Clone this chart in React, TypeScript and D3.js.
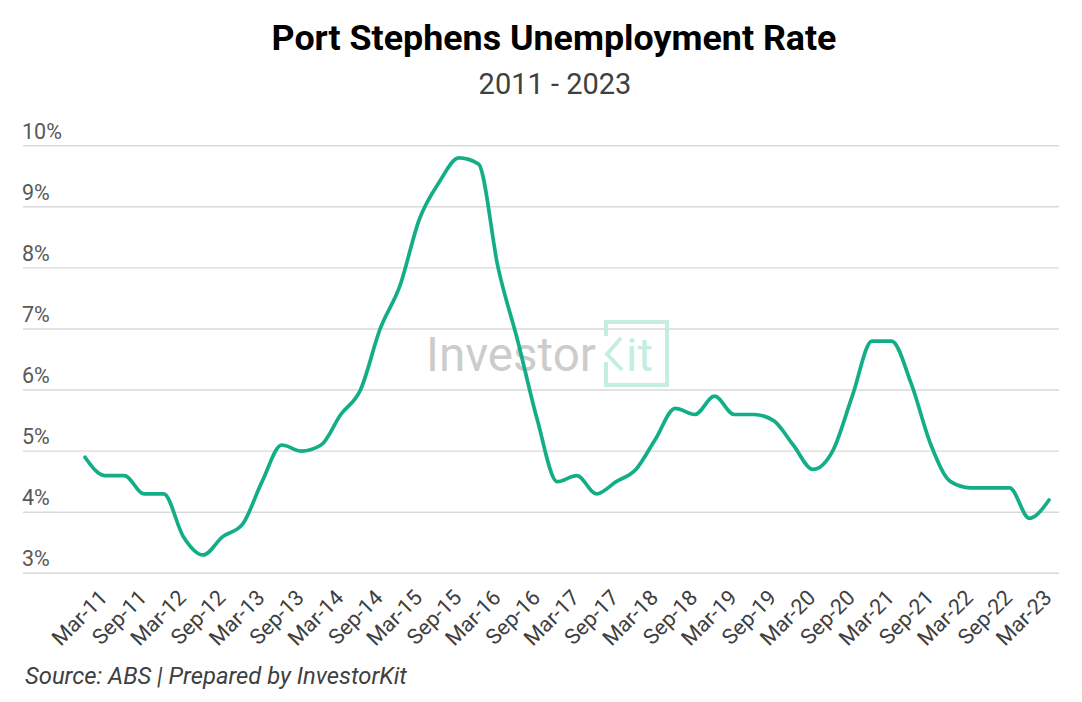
import React from 'react';
import * as d3 from 'd3';

const categories = [
  'Dec-10', 'Mar-11', 'Jun-11', 'Sep-11', 'Dec-11', 'Mar-12', 'Jun-12', 'Sep-12', 'Dec-12',
  'Mar-13', 'Jun-13', 'Sep-13', 'Dec-13', 'Mar-14', 'Jun-14', 'Sep-14', 'Dec-14',
  'Mar-15', 'Jun-15', 'Sep-15', 'Dec-15', 'Mar-16', 'Jun-16', 'Sep-16', 'Dec-16',
  'Mar-17', 'Jun-17', 'Sep-17', 'Dec-17', 'Mar-18', 'Jun-18', 'Sep-18', 'Dec-18',
  'Mar-19', 'Jun-19', 'Sep-19', 'Dec-19', 'Mar-20', 'Jun-20', 'Sep-20', 'Dec-20',
  'Mar-21', 'Jun-21', 'Sep-21', 'Dec-21', 'Mar-22', 'Jun-22', 'Sep-22', 'Dec-22', 'Mar-23',
];

const rates = [
  4.9, 4.6, 4.6, 4.3, 4.3, 3.6, 3.3, 3.6, 3.8,
  4.5, 5.1, 5.0, 5.1, 5.6, 6.0, 7.0, 7.7,
  8.8, 9.4, 9.8, 9.7, 8.0, 6.8, 5.5, 4.5,
  4.6, 4.3, 4.5, 4.7, 5.2, 5.7, 5.6, 5.9,
  5.6, 5.6, 5.5, 5.1, 4.7, 5.0, 5.9, 6.8,
  6.8, 6.1, 5.1, 4.5, 4.4, 4.4, 4.4, 3.9, 4.2,
];

const yTicks = [3, 4, 5, 6, 7, 8, 9, 10];
const xTickLabels = [
  'Mar-11', 'Sep-11', 'Mar-12', 'Sep-12', 'Mar-13', 'Sep-13', 'Mar-14', 'Sep-14',
  'Mar-15', 'Sep-15', 'Mar-16', 'Sep-16', 'Mar-17', 'Sep-17', 'Mar-18', 'Sep-18',
  'Mar-19', 'Sep-19', 'Mar-20', 'Sep-20', 'Mar-21', 'Sep-21', 'Mar-22', 'Sep-22', 'Mar-23',
];

const titleText = 'Port Stephens Unemployment Rate';
const subtitleText = '2011 - 2023';
const sourceText = 'Source: ABS | Prepared by InvestorKit';

const FONT = 'Roboto, "Noto Sans", Arial, sans-serif';

export default function App() {
  const W = 1082;
  const H = 702;
  const gridLeft = 23;
  const gridRight = 1059;

  const x = d3.scalePoint<string>().domain(categories).range([85, 1049]);
  const y = d3.scaleLinear().domain([3, 10]).range([573.3, 145.7]);

  const line = d3
    .line<number>()
    .x((_, i) => x(categories[i]) as number)
    .y((d) => y(d))
    .curve(d3.curveMonotoneX);

  const path = line(rates) || '';

  return (
    <svg
      width={W}
      height={H}
      viewBox={`0 0 ${W} ${H}`}
      style={{ position: 'absolute', left: 0, top: 0, display: 'block', background: '#fff' }}
    >
      <rect x={0} y={0} width={W} height={H} fill="#ffffff" />
      <text x={554} y={50} textAnchor="middle" fontFamily={FONT} fontWeight={700} fontSize={35.8} fill="#000">
        {titleText}
      </text>
      <text x={555} y={94} textAnchor="middle" fontFamily={FONT} fontSize={29} fill="#404040">
        {subtitleText}
      </text>

      {yTicks.map((t) => (
        <g key={t}>
          <line x1={gridLeft} x2={gridRight} y1={y(t)} y2={y(t)} stroke="#d9d9d9" strokeWidth={1.4} />
          <text x={gridLeft - 1} y={y(t) - 7} fontFamily={FONT} fontSize={21.5} fill="#595959">
            {`${t}%`}
          </text>
        </g>
      ))}

      {/* watermark */}
      <g>
        <text x={426} y={371} fontFamily={FONT} fontSize={47.5} fill="#cccccc">
          Investor
        </text>
        <path
          d="M606,336 L606,322 L667,322 L667,385 L606,385 L606,362"
          fill="none"
          stroke="#c6ede2"
          strokeWidth={4}
        />
        <path d="M621,338 L607,354 L622,370" fill="none" stroke="#c6ede2" strokeWidth={4} />
        <text x={626} y={371} fontFamily={FONT} fontSize={47} fill="#c6ede2">
          it
        </text>
      </g>

      <path d={path} fill="none" stroke="#13ae87" strokeWidth={3.7} strokeLinejoin="round" strokeLinecap="round" />

      {xTickLabels.map((c) => {
        const px = (x(c) as number) + 4;
        const py = 599;
        return (
          <text
            key={c}
            x={px}
            y={py}
            transform={`rotate(-45 ${px} ${py})`}
            textAnchor="end"
            fontFamily={FONT}
            fontSize={21.5}
            fill="#404040"
          >
            {c}
          </text>
        );
      })}

      <text x={25} y={684} fontFamily={FONT} fontStyle="italic" fontSize={23.8} fill="#404040">
        {sourceText}
      </text>
    </svg>
  );
}
